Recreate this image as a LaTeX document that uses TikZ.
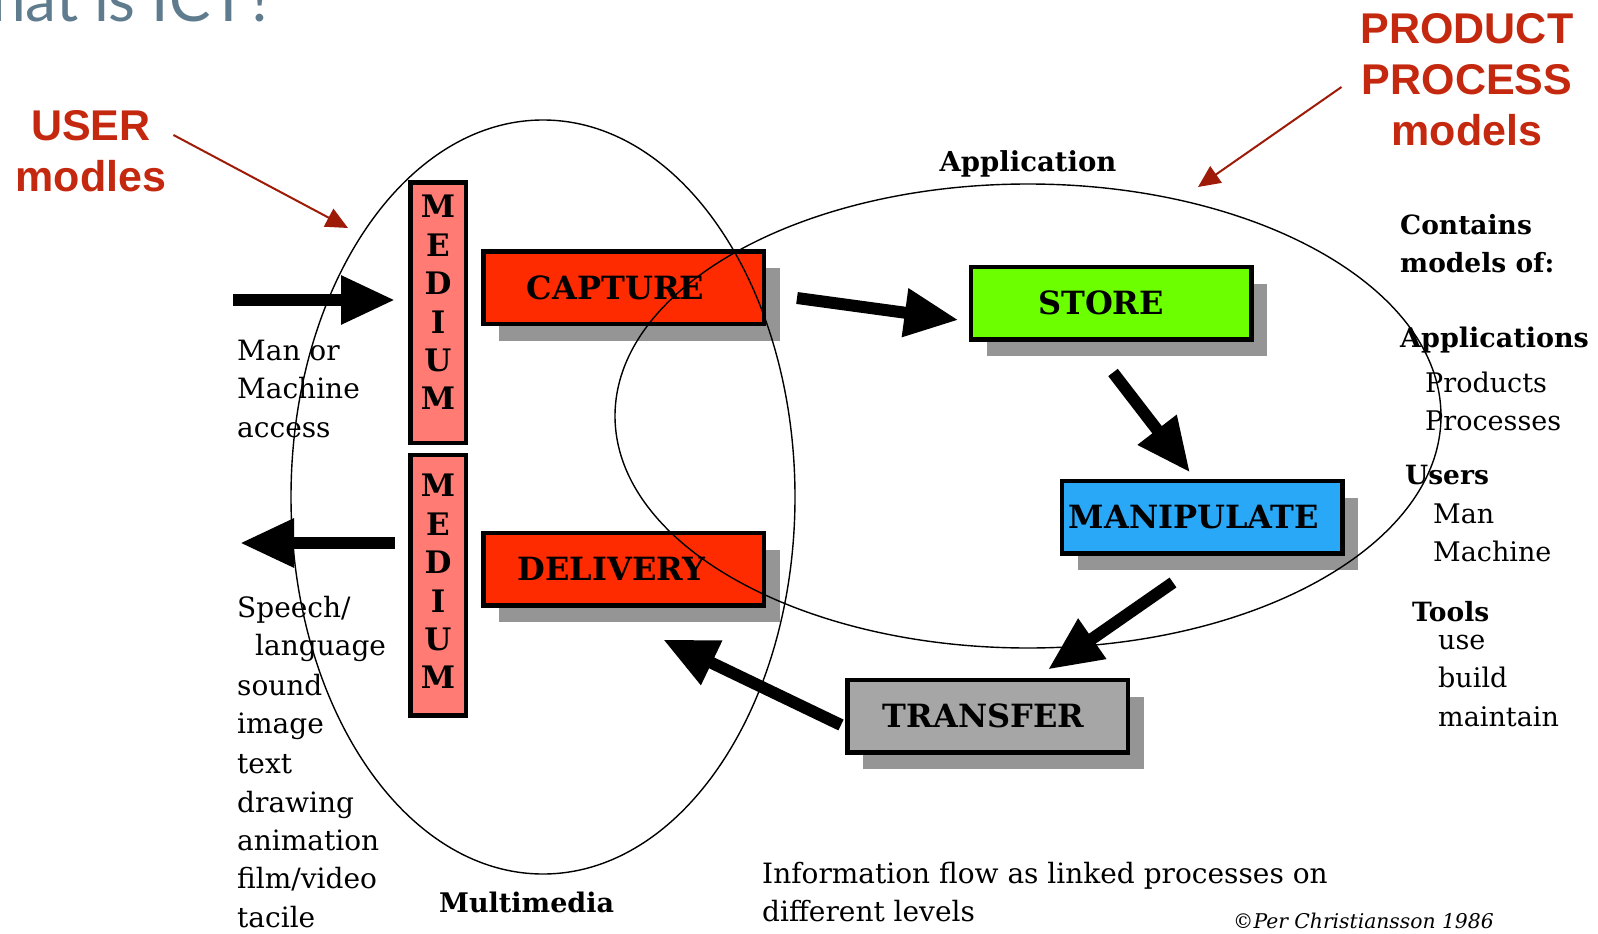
\documentclass[tikz,border=0pt]{standalone}
\usepackage{fontspec}
\setmainfont{DejaVu Serif}
\newfontfamily\redsans{Liberation Sans}
\newfontfamily\titlesans{Lato}
\usetikzlibrary{arrows.meta,calc,shadows}
\definecolor{redlab}{HTML}{C4290F}
\definecolor{redarr}{HTML}{9E1B08}
\definecolor{titlec}{HTML}{5F7B8E}
\definecolor{capred}{HTML}{FF2B00}
\definecolor{storegreen}{HTML}{6CFF00}
\definecolor{manblue}{HTML}{2AA8F8}
\definecolor{transgray}{HTML}{A6A6A6}
\definecolor{medsalmon}{HTML}{FF7B74}
\definecolor{shadowgray}{HTML}{959595}
\begin{document}
\begin{tikzpicture}[x=1pt,y=-1pt,
  procbox/.style={draw=black, line width=4.5pt, minimum width=280.5pt, minimum height=72.5pt,
    inner sep=0pt, font=\bfseries\fontsize{32}{32}\selectfont,
    drop shadow={shadow xshift=16pt, shadow yshift=-17pt, fill=shadowgray, opacity=1}},
  medbox/.style={draw=black, line width=4.5pt, fill=medsalmon, minimum width=55.5pt,
    minimum height=260.5pt, inner sep=0pt},
  medtxt/.style={align=center, font=\bfseries\fontsize{31}{38.4}\selectfont, inner sep=0pt},
  lbl/.style={anchor=base west, inner sep=0pt, font=\fontsize{28}{28}\selectfont},
  rlbl/.style={anchor=base west, inner sep=0pt, font=\fontsize{27}{27}\selectfont},
  hlbl/.style={anchor=base west, inner sep=0pt, font=\bfseries\fontsize{26.5}{26.5}\selectfont},
  infolbl/.style={anchor=base west, inner sep=0pt, font=\fontsize{28}{28}\selectfont},
  redtxt/.style={align=center, inner sep=0pt, text=redlab, font=\redsans\bfseries\fontsize{43}{51}\selectfont},
  redarrow/.style={draw=redarr, line width=2pt, -{Triangle[length=22pt,width=20pt]}},
  bigarrow/.style={draw=black, line width=12pt, -{Triangle[length=54pt,width=46pt]}},
  ell/.style={draw=black, line width=1.4pt}
]
\fill[white] (0,0) rectangle (1598,934);
\useasboundingbox (0,0) rectangle (1598,934);

% title (cut off at the left, as in the reference)
\node[anchor=base east, inner sep=0pt, text=titlec, font=\titlesans\fontsize{62}{62}\selectfont] (title) at (275,22) {What is ICT?};

% process boxes
\node[procbox, fill=capred] (capture) at (623.5,287.5) {CAPTURE\kern16pt};
\node[procbox, fill=capred] (delivery) at (623.5,569) {DELIVERY\kern24pt};
\node[procbox, fill=storegreen] (store) at (1111,303) {STORE\kern20pt};
\node[procbox, fill=manblue] (manip) at (1202,517) {MANIPULATE\kern16pt};
\node[procbox, fill=transgray] (transfer) at (987.5,716) {TRANSFER\kern8pt};

% medium boxes
\node[medbox] (med1) at (438,312.5) {};
\node[medbox] (med2) at (438,585) {};
\node[medtxt] (med1t) at (438,302.5) {M\\E\\D\\I\\U\\M};
\node[medtxt] (med2t) at (438,581.5) {M\\E\\D\\I\\U\\M};

% left texts
\node[lbl] (ma1) at (237,360) {Man or};
\node[lbl] (ma2) at (237,398) {Machine};
\node[lbl] (ma3) at (237,437) {access};
\node[lbl] (sp1) at (237,617) {Speech/};
\node[lbl] (sp2) at (255,655) {language};
\node[lbl] (sp3) at (237,695) {sound};
\node[lbl] (sp4) at (237,733) {image};
\node[lbl] (sp5) at (237,773) {text};
\node[lbl] (sp6) at (237,812) {drawing};
\node[lbl] (sp7) at (237,850) {animation};
\node[lbl] (sp8) at (237,888) {film/video};
\node[lbl] (sp9) at (237,927) {tacile};

% right texts
\node[hlbl] (r1) at (1400,234) {Contains};
\node[hlbl] (r2) at (1400,272) {models of:};
\node[hlbl, font=\bfseries\fontsize{27}{27}\selectfont] (r3) at (1400,347) {Applications};
\node[rlbl] (r4) at (1425,392) {Products};
\node[rlbl] (r5) at (1425,430) {Processes};
\node[hlbl] (r6) at (1405,484) {Users};
\node[rlbl] (r7) at (1433,523) {Man};
\node[rlbl] (r8) at (1433,561) {Machine};
\node[hlbl] (r9) at (1412,621) {Tools};
\node[rlbl] (r10) at (1438,649) {use};
\node[rlbl] (r11) at (1438,687) {build};
\node[rlbl] (r12) at (1438,726) {maintain};

% other labels
\node[anchor=base, inner sep=0pt, font=\bfseries\fontsize{27.5}{27.5}\selectfont] (applab) at (1028,171) {Application};
\node[anchor=base west, inner sep=0pt, font=\bfseries\fontsize{27}{27}\selectfont] (mmlab) at (439,912) {Multimedia};
\node[infolbl] (info1) at (762,883) {Information flow as linked processes on};
\node[infolbl] (info2) at (762,921) {different levels};
\node[anchor=base west, inner sep=0pt, font=\itshape\fontsize{20.3}{20.3}\selectfont] (credit) at (1233,928) {©Per Christiansson 1986};

% red labels
\node[redtxt] (user) at (91,151) {USER\\modles};
\node[redtxt] (prod) at (1467,79.5) {PRODUCT\\PROCESS\\models};
\coordinate (usertip) at (348,228);
\coordinate (prodtip) at (1198,187);
\draw[redarrow] ($(user.east)+(7,-16)$) -- (usertip);
\draw[redarrow] ($(prod.west)+(-19,7.5)$) -- (prodtip);

% flow arrows
\coordinate (in1) at (233,300);
\coordinate (out1) at (240,543);
\draw[bigarrow] (in1) -- ($(in1 -| med1.west)+(-13,0)$);
\draw[bigarrow] ($(out1 -| med2.west)+(-13,0)$) -- (out1);
\draw[bigarrow] ($(capture.east)+(31,10.5)$) -- ($(store.west)+(-10,17)$);
\draw[bigarrow] ($(store.south)+(2,31)$) -- ($(manip.north)+(-12,-6)$);
\draw[bigarrow] ($(manip.south)+(-29,27)$) -- ($(transfer.north)+(60.5,-8)$);
\draw[bigarrow] ($(transfer.west)+(-4,9)$) -- ($(delivery.south)+(39.5,32)$);

% ellipses
\draw[ell] (543,497) ellipse [x radius=252, y radius=377];
\draw[ell] (1028,416) ellipse [x radius=413, y radius=232];
\end{tikzpicture}
\end{document}
